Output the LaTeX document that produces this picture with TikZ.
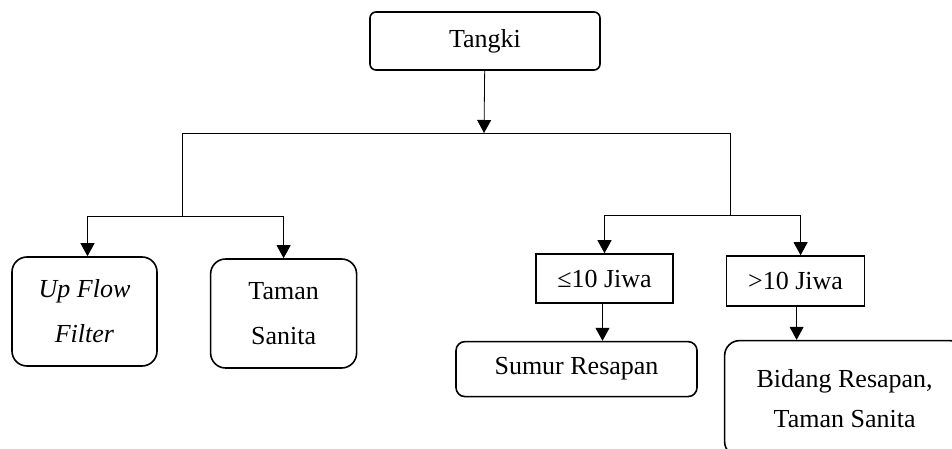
\documentclass[tikz,border=0pt]{standalone}
\usepackage{fontspec}
\setmainfont{Liberation Serif}
\usetikzlibrary{arrows.meta, positioning}
\tikzstyle{roundbox} = [rectangle, rounded corners=12pt, inner sep=0pt, draw=black, line width=1.6pt, align=center, font=\fontsize{26}{45}\selectfont]
\tikzstyle{plainbox} = [rectangle, inner sep=0pt, draw=black, line width=1.6pt, align=center, font=\fontsize{26}{31}\selectfont]
\tikzstyle{line} = [line width=0.8pt]
\tikzstyle{arrow} = [line width=0.8pt, -{Triangle[length=13pt, width=14pt]}]

\begin{document}
\begin{tikzpicture}[x=1pt, y=-1pt]
	\useasboundingbox (0,0) rectangle (952,449);
	\clip (0,0) rectangle (952,449);
	
	% Top node
	\node (tangki) [roundbox, rounded corners=6pt, minimum width=230pt, minimum height=58pt] at (485,41) {Tangki};
	
	% Left branch
	\node (upflow) [roundbox, rounded corners=15pt, minimum width=145pt, minimum height=109pt] at (84.5,311.5) {\textit{Up Flow}\\\textit{Filter}};
	\node (taman) [roundbox, rounded corners=15pt, minimum width=146pt, minimum height=109pt, right=52pt of upflow, yshift=-2pt] {Taman\\Sanita};
	
	% Right branch
	\node (kecil) [plainbox, minimum width=137pt, minimum height=49pt] at (604.5,278.5) {≤10 Jiwa};
	\node (besar) [plainbox, minimum width=138pt, minimum height=50pt, right=52pt of kecil, yshift=-2.5pt] {>10 Jiwa};
	\node (sumur) [roundbox, rounded corners=9pt, minimum width=241pt, minimum height=55pt, below=37pt of kecil, xshift=-28pt] {Sumur Resapan};
	\node (bidang) [roundbox, rounded corners=15pt, font=\fontsize{26}{40}\selectfont, minimum width=240pt, minimum height=116pt, below=33pt of besar, xshift=49pt] {Bidang Resapan,\\Taman Sanita};
	
	% Junctions
	\coordinate (split) at (484,133);
	\coordinate (leftend) at (182,133);
	\coordinate (rightend) at (730,133);
	\coordinate (leftsplit) at (182,216);
	\coordinate (rightsplit) at (730,215);
	
	% Connectors
	\draw [arrow] (tangki) -- (split);
	\draw [line] (leftend) -- (rightend);
	\draw [line] (leftend) -- (leftsplit);
	\draw [line] (rightend) -- (rightsplit);
	\draw [arrow] (leftsplit) -| ([xshift=3pt]upflow.north);
	\draw [arrow] (leftsplit) -| (taman.north);
	\draw [arrow] (rightsplit) -| (kecil.north);
	\draw [arrow] (rightsplit) -| ([xshift=5pt]besar.north);
	\draw [arrow] ([xshift=-2pt]kecil.south) -- ([xshift=-2pt]kecil.south |- sumur.north);
	\draw [arrow] ([xshift=1pt]besar.south) -- ([xshift=1pt]besar.south |- bidang.north);
	
\end{tikzpicture}
\end{document}
